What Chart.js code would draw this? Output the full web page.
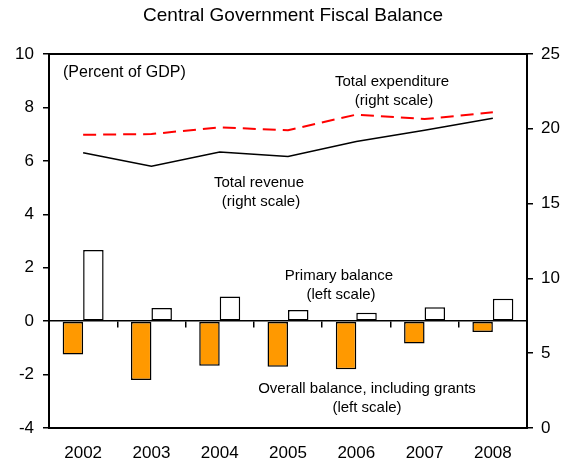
<!DOCTYPE html>
<html>
<head>
<meta charset="utf-8">
<title>Central Government Fiscal Balance</title>
<script src="https://cdn.jsdelivr.net/npm/chart.js@4.4.1/dist/chart.umd.min.js"></script>
<style>
  body { margin: 0; background: #fff; }
  #wrap { width: 565px; height: 461px; }
</style>
</head>
<body>
<div id="wrap"><canvas id="fiscalChart" width="565" height="461"></canvas></div>
<script>
const years = ['2002', '2003', '2004', '2005', '2006', '2007', '2008'];

// left scale, percent of GDP
const overallBalance = [-1.25, -2.2, -1.67, -1.71, -1.8, -0.84, -0.41];
const primaryBalance = [2.66, 0.49, 0.92, 0.42, 0.31, 0.52, 0.84];

// right scale, percent of GDP
const totalRevenue = [18.4, 17.5, 18.45, 18.15, 19.15, 19.9, 20.7];
const totalExpenditure = [19.6, 19.65, 20.1, 19.9, 20.95, 20.65, 21.1];

const leftMin = -4, leftMax = 10, leftStep = 2;
const rightMin = 0, rightMax = 25, rightStep = 5;

const FONT = "'Liberation Sans', Arial, Helvetica, sans-serif";

const notes = [
    { text: '(Percent of GDP)', x: 63, y: 73, align: 'left', size: 16 },
    { text: 'Total expenditure', x: 392, y: 82 },
    { text: '(right scale)', x: 394, y: 101 },
    { text: 'Total revenue', x: 259, y: 183 },
    { text: '(right scale)', x: 261, y: 202 },
    { text: 'Primary balance', x: 339, y: 276 },
    { text: '(left scale)', x: 341, y: 295 },
    { text: 'Overall balance, including grants', x: 367, y: 389 },
    { text: '(left scale)', x: 367, y: 408 }
];

// title, top frame line and the in-plot notes
const textPlugin = {
    id: 'fiscalText',
    afterDraw(chart) {
        const { ctx, chartArea } = chart;
        ctx.save();
        ctx.strokeStyle = '#000';
        ctx.lineWidth = 2;
        ctx.beginPath();
        ctx.moveTo(chartArea.left, chartArea.top);
        ctx.lineTo(chartArea.right, chartArea.top);
        ctx.stroke();

        ctx.fillStyle = '#000';
        ctx.textBaseline = 'middle';
        ctx.textAlign = 'center';
        ctx.font = '19px ' + FONT;
        ctx.fillText('Central Government Fiscal Balance', 293, 16);

        notes.forEach(n => {
            ctx.font = (n.size || 15) + 'px ' + FONT;
            ctx.textAlign = n.align || 'center';
            ctx.fillText(n.text, n.x, n.y);
        });
        ctx.restore();
    }
};

const ctx = document.getElementById('fiscalChart').getContext('2d');
new Chart(ctx, {
    data: {
        labels: years,
        datasets: [
            {
                type: 'bar', label: 'Overall balance, including grants', data: overallBalance,
                backgroundColor: '#FF9900', borderColor: '#000', borderWidth: 1.5,
                borderSkipped: false, yAxisID: 'y', order: 2
            },
            {
                type: 'bar', label: 'Primary balance', data: primaryBalance,
                backgroundColor: '#fff', borderColor: '#000', borderWidth: 1.5,
                borderSkipped: false, yAxisID: 'y', order: 2
            },
            {
                type: 'line', label: 'Total revenue', data: totalRevenue,
                borderColor: '#000', borderWidth: 1.5, pointRadius: 0,
                tension: 0, yAxisID: 'y2', order: 1
            },
            {
                type: 'line', label: 'Total expenditure', data: totalExpenditure,
                borderColor: '#FF0000', borderWidth: 2, borderDash: [13, 7], pointRadius: 0,
                tension: 0, yAxisID: 'y2', order: 1
            }
        ]
    },
    options: {
        responsive: false,
        animation: false,
        layout: { padding: { top: 54, left: 0, right: 0, bottom: 0 } },
        datasets: {
            bar: { categoryPercentage: 0.6, barPercentage: 1 }
        },
        plugins: {
            legend: { display: false },
            tooltip: { enabled: false },
            title: { display: false }
        },
        scales: {
            x: {
                type: 'category',
                offset: true,
                grid: { display: false, drawTicks: false },
                border: { display: true, color: '#000', width: 2 },
                ticks: { color: '#000', font: { family: FONT, size: 17 }, padding: 15, maxRotation: 0 },
                afterFit(scale) { scale.height = 33; }
            },
            // tick marks along the zero line
            xZero: {
                type: 'category',
                position: { y: 0 },
                offset: true,
                grid: { offset: true, drawOnChartArea: false, drawTicks: true, tickLength: 6, color: '#000', lineWidth: 1.5 },
                border: { display: true, color: '#000', width: 1.5 },
                ticks: { display: false }
            },
            y: {
                position: 'left',
                min: leftMin, max: leftMax,
                grid: { drawOnChartArea: false, tickLength: 6, color: '#000', lineWidth: 1.5 },
                border: { display: true, color: '#000', width: 2 },
                ticks: { stepSize: leftStep, color: '#000', font: { family: FONT, size: 17 }, padding: 9 },
                afterFit(scale) { scale.width = 49; }
            },
            y2: {
                position: 'right',
                min: rightMin, max: rightMax,
                grid: { drawOnChartArea: false, tickLength: 6, color: '#000', lineWidth: 1.5 },
                border: { display: true, color: '#000', width: 2 },
                ticks: { stepSize: rightStep, color: '#000', font: { family: FONT, size: 17 }, padding: 8 },
                afterFit(scale) { scale.width = 38; }
            }
        }
    },
    plugins: [textPlugin]
});
</script>
</body>
</html>
